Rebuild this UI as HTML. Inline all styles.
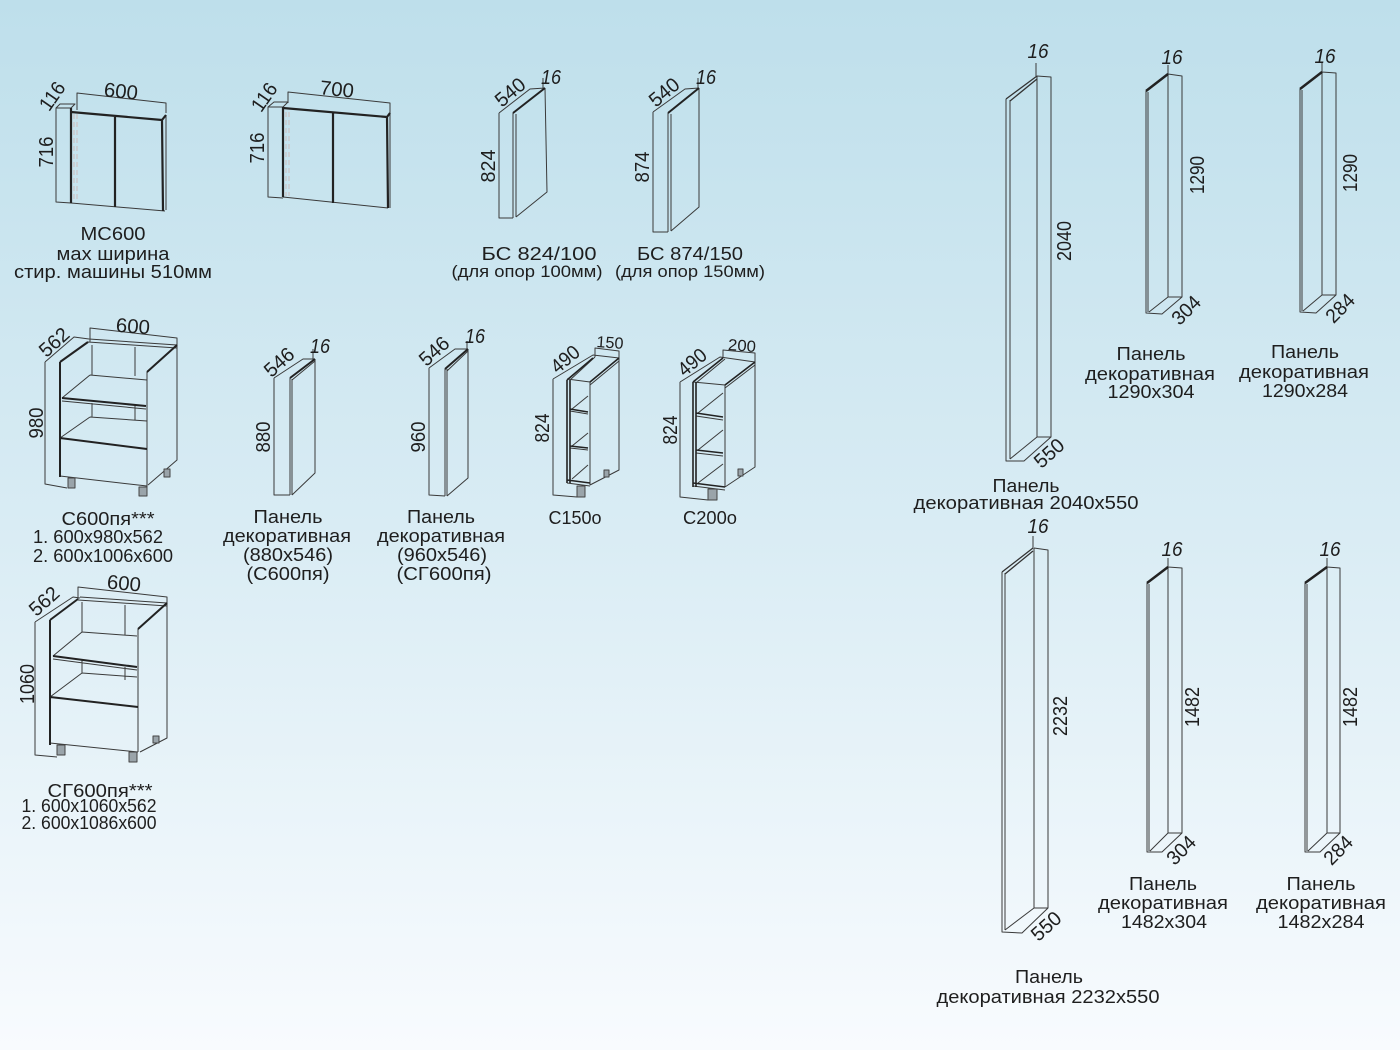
<!DOCTYPE html>
<html><head><meta charset="utf-8"><style>
html,body{margin:0;padding:0;width:1400px;height:1050px;overflow:hidden;}
svg{display:block;}
text{font-family:"Liberation Sans",Arial,sans-serif;fill:#1e1e1e;}
</style></head><body>
<svg width="1400" height="1050" viewBox="0 0 1400 1050" xmlns="http://www.w3.org/2000/svg">
<defs><linearGradient id="bg" x1="0" y1="0" x2="0" y2="1">
<stop offset="0" stop-color="#bedfeb"/><stop offset="0.5" stop-color="#d9ecf4"/><stop offset="1" stop-color="#f8fbfe"/></linearGradient></defs>
<rect width="1400" height="1050" fill="url(#bg)"/>

<g fill="none" stroke="#3a3a3a" stroke-width="1" stroke-linejoin="round">
<!-- MC600 -->
<path d="M56,108 L56,202 L71,203 M56,108 L60,104 L75,104 L71,108 Z M71,203 L165,211 M166,115 L166,210 M77,110 L77,93 L166,103 L166,113"/>
<path d="M71,108 L71,203 M71,112 L162,120 M115,116 L115,207 M162,120 L163,211 M162,120 L166,115" stroke="#222" stroke-width="2.2"/>
<path d="M74,114 L74,200 M77,114 L77,200" stroke="#cdbcbc" stroke-dasharray="5 3"/>
<!-- MC700 -->
<path d="M268,107 L268,197 L283,198 M268,107 L274,102 L288,102 L283,107 Z M283,197 L388,208 M390,113 L390,208 M288,103 L288,92 L390,103 L390,113"/>
<path d="M283,107 L283,197 M283,108 L387,117 M333,112 L333,203 M387,117 L388,208 M387,117 L390,113" stroke="#222" stroke-width="2.2"/>
<path d="M286,112 L286,196 M289,112 L289,196" stroke="#cdbcbc" stroke-dasharray="5 3"/>
<!-- БС 824 -->
<path d="M499,113 L499,218 L513,218 M513,113 L513,218 M516,114 L516,217 M499,113 L530,89 L545,88 M545,88 L547,192 L516,217 M543,89 L543,78"/>
<path d="M513,113 L545,88" stroke="#222" stroke-width="2"/>
<!-- БС 874 -->
<path d="M653,112 L653,232 L668,232 M668,113 L668,232 M671,114 L671,231 M653,112 L685,89 L699,88 M699,88 L699,207 L671,231 M698,89 L698,78"/>
<path d="M668,113 L699,88" stroke="#222" stroke-width="2"/>

<!-- C600пя -->
<path d="M45,362 L45,484 L67,488 M45,362 L74,337 L89,339 M88,342 L177,348 M89,339 L177,345 M147,372 L147,487 M177,345 L177,460 L148,485
M92,345 L92,375 M135,347 L135,376 M90,375 L147,380 M90,375 L62,398 M62,401 L146,409
M92,403 L92,417 M135,405 L135,420 M90,417 L147,421 M90,417 L60,438 M60,476 L147,486 M90,342 L90,328 L177,338 L177,348"/>
<path d="M60,362 L60,477 M60,362 L88,342 M177,345 L147,372 M62,398 L146,406 M60,438 L147,449" stroke="#222" stroke-width="2"/>
<g fill="#9aa4aa" stroke="#444"><rect x="68" y="478" width="7" height="10"/><rect x="139" y="487" width="8" height="9"/><rect x="164" y="469" width="6" height="8"/></g>

<!-- Panel 880 -->
<path d="M274,378 L274,495 L290,495 M290,378 L290,495 M292,379 L292,495 M274,378 L303,359 L315,359 M292,380 L315,361 M315,359 L315,473 L292,495 M313,359 L313,349"/>
<path d="M290,378 L315,359" stroke="#222" stroke-width="2"/>
<!-- Panel 960 -->
<path d="M429,368 L429,495 L445,496 M445,369 L445,496 M447,369 L447,496 M429,368 L455,349 L468,349 M447,371 L468,351 M468,349 L468,478 L447,496 M467,349 L467,341"/>
<path d="M445,369 L468,349" stroke="#222" stroke-width="2"/>

<!-- С150о -->
<path d="M553,379 L553,495 L577,497 M553,379 L593,355 L619,358 M570,380 L595,357 M567,379 L590,382 M590,385 L619,361 M590,382 L590,485 M619,358 L619,470 L590,485
M570,411 L588,414 M572,409 L588,396 M570,448 L588,450 M572,446 L588,433 M567,483 L590,486 M572,479 L588,465 M595,357 L595,348 L619,351 L619,358"/>
<path d="M567,380 L593,358 M567,380 L567,483 M570,380 L570,483 M590,382 L619,358 M570,409 L588,412 M570,446 L588,448 M567,480 L590,483" stroke="#222" stroke-width="1.6"/>
<g fill="#9aa4aa" stroke="#444"><rect x="577" y="486" width="8" height="11"/><rect x="604" y="470" width="5" height="7"/></g>

<!-- С200о -->
<path d="M680,382 L680,497 L708,500 M680,382 L720,357 L755,362 M696,383 L725,359 M693,382 L725,385 M725,388 L755,365 M725,385 L725,487 M755,362 L755,467 L725,487
M696,416 L723,420 M698,413 L723,393 M696,453 L723,456 M698,450 L723,430 M693,486 L725,490 M698,483 L723,464 M723,358 L723,350 L755,353 L755,362"/>
<path d="M693,382 L723,358 M693,382 L693,487 M696,382 L696,487 M725,385 L755,362 M696,413 L723,417 M696,450 L723,453 M693,483 L725,487" stroke="#222" stroke-width="1.6"/>
<g fill="#9aa4aa" stroke="#444"><rect x="708" y="489" width="9" height="11"/><rect x="738" y="469" width="5" height="7"/></g>

<!-- СГ600пя -->
<path d="M35,622 L35,755 L57,757 M35,622 L73,597 L80,598 M78,600 L167,606 M80,597 L167,603 M138,629 L138,752 M167,603 L167,738 L140,752
M82,602 L82,632 M125,605 L125,635 M82,632 L137,636 M82,632 L53,656 M53,659 L137,670
M82,660 L82,673 M125,667 L125,680 M82,673 L137,677 M82,673 L50,697 M50,743 L138,752 M78,600 L78,587 L167,597 L167,606"/>
<path d="M50,620 L50,745 M50,620 L78,599 M167,603 L138,629 M53,656 L137,667 M50,697 L138,707" stroke="#222" stroke-width="2"/>
<g fill="#9aa4aa" stroke="#444"><rect x="57" y="745" width="8" height="10"/><rect x="129" y="752" width="8" height="10"/><rect x="153" y="736" width="6" height="7"/></g>

<!-- Panel 2040x550 -->
<path d="M1006,99 L1006,461 L1024,461 L1051,437 L1051,77 L1037,76 M1010,100 L1010,459 M1037,76 L1037,437 L1051,437 M1010,459 L1037,437 M1036,76 L1036,63"/>
<path d="M1006,99 L1037,76 M1010,101 L1037,79" stroke="#333" stroke-width="1.3"/>
<!-- Panel 1290x304 -->
<path d="M1146,91 L1146,313 L1162,314 L1182,297 L1182,76 L1168,74 M1148,92 L1148,312 M1168,74 L1168,297 L1182,297 M1149,312 L1168,297 M1168,74 L1168,65"/>
<path d="M1146,91 L1168,74" stroke="#222" stroke-width="2.5"/>
<!-- Panel 1290x284 -->
<path d="M1300,89 L1300,312 L1316,313 L1336,295 L1336,73 L1322,72 M1302,90 L1302,311 M1322,72 L1322,295 L1336,295 M1303,311 L1322,295 M1322,72 L1322,63"/>
<path d="M1300,89 L1322,72" stroke="#222" stroke-width="2.5"/>
<!-- Panel 2232x550 -->
<path d="M1002,572 L1002,932 L1022,933 L1048,908 L1048,550 L1034,548 M1005,573 L1005,930 M1034,548 L1034,908 L1048,908 M1005,930 L1034,908 M1033,548 L1033,536"/>
<path d="M1002,572 L1033,548 M1005,574 L1033,551" stroke="#333" stroke-width="1.3"/>
<!-- Panel 1482x304 -->
<path d="M1147,583 L1147,852 L1162,852 L1182,833 L1182,568 L1168,567 M1149,584 L1149,851 M1168,567 L1168,833 L1182,833 M1150,851 L1168,833 M1168,567 L1168,558"/>
<path d="M1147,583 L1168,567" stroke="#222" stroke-width="2.5"/>
<!-- Panel 1482x284 -->
<path d="M1305,583 L1305,852 L1320,852 L1340,833 L1340,568 L1327,567 M1307,584 L1307,851 M1327,567 L1327,833 L1340,833 M1308,851 L1327,833 M1327,567 L1327,558"/>
<path d="M1305,583 L1327,567" stroke="#222" stroke-width="2.5"/>
</g>

<!-- Labels -->
<g font-size="18" text-anchor="middle">
<text x="113" y="240" textLength="65" lengthAdjust="spacingAndGlyphs">МС600</text>
<text x="113" y="260" textLength="113" lengthAdjust="spacingAndGlyphs">мах ширина</text>
<text x="113" y="278" textLength="198" lengthAdjust="spacingAndGlyphs">стир. машины 510мм</text>
<text x="539" y="260" textLength="115" lengthAdjust="spacingAndGlyphs">БС 824/100</text>
<text x="527" y="277" font-size="17" textLength="151" lengthAdjust="spacingAndGlyphs">(для опор 100мм)</text>
<text x="690" y="260" textLength="106" lengthAdjust="spacingAndGlyphs">БС 874/150</text>
<text x="690" y="277" font-size="17" textLength="150" lengthAdjust="spacingAndGlyphs">(для опор 150мм)</text>
<text x="108" y="525" textLength="93" lengthAdjust="spacingAndGlyphs">С600пя***</text>
<text x="98" y="543" textLength="130" lengthAdjust="spacingAndGlyphs">1. 600x980x562</text>
<text x="103" y="562" textLength="140" lengthAdjust="spacingAndGlyphs">2. 600x1006x600</text>
<text x="288" y="523" textLength="69" lengthAdjust="spacingAndGlyphs">Панель</text>
<text x="287" y="542" textLength="128" lengthAdjust="spacingAndGlyphs">декоративная</text>
<text x="288" y="561" textLength="90" lengthAdjust="spacingAndGlyphs">(880x546)</text>
<text x="288" y="580" textLength="83" lengthAdjust="spacingAndGlyphs">(С600пя)</text>
<text x="441" y="523" textLength="68" lengthAdjust="spacingAndGlyphs">Панель</text>
<text x="441" y="542" textLength="128" lengthAdjust="spacingAndGlyphs">декоративная</text>
<text x="442" y="561" textLength="90" lengthAdjust="spacingAndGlyphs">(960x546)</text>
<text x="444" y="580" textLength="95" lengthAdjust="spacingAndGlyphs">(СГ600пя)</text>
<text x="575" y="524" textLength="53" lengthAdjust="spacingAndGlyphs">С150о</text>
<text x="710" y="524" textLength="54" lengthAdjust="spacingAndGlyphs">С200о</text>
<text x="100" y="797" textLength="105" lengthAdjust="spacingAndGlyphs">СГ600пя***</text>
<text x="89" y="812" textLength="135" lengthAdjust="spacingAndGlyphs">1. 600x1060x562</text>
<text x="89" y="829" textLength="135" lengthAdjust="spacingAndGlyphs">2. 600x1086x600</text>
<text x="1026" y="492" textLength="67" lengthAdjust="spacingAndGlyphs">Панель</text>
<text x="1026" y="509" textLength="225" lengthAdjust="spacingAndGlyphs">декоративная 2040x550</text>
<text x="1151" y="360" textLength="69" lengthAdjust="spacingAndGlyphs">Панель</text>
<text x="1150" y="380" textLength="130" lengthAdjust="spacingAndGlyphs">декоративная</text>
<text x="1151" y="398" textLength="87" lengthAdjust="spacingAndGlyphs">1290x304</text>
<text x="1305" y="358" textLength="68" lengthAdjust="spacingAndGlyphs">Панель</text>
<text x="1304" y="378" textLength="130" lengthAdjust="spacingAndGlyphs">декоративная</text>
<text x="1305" y="397" textLength="86" lengthAdjust="spacingAndGlyphs">1290x284</text>
<text x="1049" y="983" textLength="68" lengthAdjust="spacingAndGlyphs">Панель</text>
<text x="1048" y="1003" textLength="223" lengthAdjust="spacingAndGlyphs">декоративная 2232x550</text>
<text x="1163" y="890" textLength="68" lengthAdjust="spacingAndGlyphs">Панель</text>
<text x="1163" y="909" textLength="130" lengthAdjust="spacingAndGlyphs">декоративная</text>
<text x="1164" y="928" textLength="86" lengthAdjust="spacingAndGlyphs">1482x304</text>
<text x="1321" y="890" textLength="69" lengthAdjust="spacingAndGlyphs">Панель</text>
<text x="1321" y="909" textLength="130" lengthAdjust="spacingAndGlyphs">декоративная</text>
<text x="1321" y="928" textLength="87" lengthAdjust="spacingAndGlyphs">1482x284</text>
</g>

<!-- Dimension numbers -->
<g font-size="20" text-anchor="middle">
<text transform="translate(121,91) rotate(6)" y="7" textLength="34" lengthAdjust="spacingAndGlyphs">600</text>
<text transform="translate(52,96) rotate(-55)" y="7" textLength="30" lengthAdjust="spacingAndGlyphs">116</text>
<text transform="translate(46,152) rotate(-90)" y="7" textLength="31" lengthAdjust="spacingAndGlyphs">716</text>
<text transform="translate(337,89) rotate(6)" y="7" textLength="34" lengthAdjust="spacingAndGlyphs">700</text>
<text transform="translate(264,97) rotate(-55)" y="7" textLength="30" lengthAdjust="spacingAndGlyphs">116</text>
<text transform="translate(257,148) rotate(-90)" y="7" textLength="31" lengthAdjust="spacingAndGlyphs">716</text>
<text transform="translate(510,92) rotate(-40)" y="7" textLength="33" lengthAdjust="spacingAndGlyphs">540</text>
<text transform="translate(551,77)" y="7" font-style="italic" textLength="20" lengthAdjust="spacingAndGlyphs">16</text>
<text transform="translate(488,166) rotate(-90)" y="7" textLength="33" lengthAdjust="spacingAndGlyphs">824</text>
<text transform="translate(664,92) rotate(-40)" y="7" textLength="33" lengthAdjust="spacingAndGlyphs">540</text>
<text transform="translate(706,77)" y="7" font-style="italic" textLength="20" lengthAdjust="spacingAndGlyphs">16</text>
<text transform="translate(642,167) rotate(-90)" y="7" textLength="31" lengthAdjust="spacingAndGlyphs">874</text>
<text transform="translate(133,326) rotate(4)" y="7" textLength="34" lengthAdjust="spacingAndGlyphs">600</text>
<text transform="translate(54,342) rotate(-42)" y="7" textLength="33" lengthAdjust="spacingAndGlyphs">562</text>
<text transform="translate(36,423) rotate(-90)" y="7" textLength="31" lengthAdjust="spacingAndGlyphs">980</text>
<text transform="translate(279,362) rotate(-42)" y="7" textLength="33" lengthAdjust="spacingAndGlyphs">546</text>
<text transform="translate(320,346)" y="7" font-style="italic" textLength="20" lengthAdjust="spacingAndGlyphs">16</text>
<text transform="translate(263,437) rotate(-90)" y="7" textLength="31" lengthAdjust="spacingAndGlyphs">880</text>
<text transform="translate(434,351) rotate(-42)" y="7" textLength="33" lengthAdjust="spacingAndGlyphs">546</text>
<text transform="translate(475,336)" y="7" font-style="italic" textLength="20" lengthAdjust="spacingAndGlyphs">16</text>
<text transform="translate(418,437) rotate(-90)" y="7" textLength="31" lengthAdjust="spacingAndGlyphs">960</text>
<text transform="translate(610,343) rotate(4)" y="5" font-size="16" textLength="27" lengthAdjust="spacingAndGlyphs">150</text>
<text transform="translate(565,359) rotate(-40)" y="7" textLength="31" lengthAdjust="spacingAndGlyphs">490</text>
<text transform="translate(542,428) rotate(-90)" y="7" textLength="29" lengthAdjust="spacingAndGlyphs">824</text>
<text transform="translate(742,346) rotate(4)" y="5" font-size="16" textLength="28" lengthAdjust="spacingAndGlyphs">200</text>
<text transform="translate(692,362) rotate(-40)" y="7" textLength="31" lengthAdjust="spacingAndGlyphs">490</text>
<text transform="translate(670,430) rotate(-90)" y="7" textLength="29" lengthAdjust="spacingAndGlyphs">824</text>
<text transform="translate(124,583) rotate(5)" y="7" textLength="34" lengthAdjust="spacingAndGlyphs">600</text>
<text transform="translate(44,601) rotate(-42)" y="7" textLength="33" lengthAdjust="spacingAndGlyphs">562</text>
<text transform="translate(27,684) rotate(-90)" y="7" textLength="40" lengthAdjust="spacingAndGlyphs">1060</text>
<text transform="translate(1038,51)" y="7" font-style="italic" textLength="21" lengthAdjust="spacingAndGlyphs">16</text>
<text transform="translate(1064,241) rotate(-90)" y="7" textLength="40" lengthAdjust="spacingAndGlyphs">2040</text>
<text transform="translate(1049,453) rotate(-42)" y="7" textLength="33" lengthAdjust="spacingAndGlyphs">550</text>
<text transform="translate(1172,57)" y="7" font-style="italic" textLength="21" lengthAdjust="spacingAndGlyphs">16</text>
<text transform="translate(1197,175) rotate(-90)" y="7" textLength="38" lengthAdjust="spacingAndGlyphs">1290</text>
<text transform="translate(1186,310) rotate(-45)" y="7" textLength="32" lengthAdjust="spacingAndGlyphs">304</text>
<text transform="translate(1325,56)" y="7" font-style="italic" textLength="21" lengthAdjust="spacingAndGlyphs">16</text>
<text transform="translate(1350,173) rotate(-90)" y="7" textLength="38" lengthAdjust="spacingAndGlyphs">1290</text>
<text transform="translate(1340,308) rotate(-45)" y="7" textLength="32" lengthAdjust="spacingAndGlyphs">284</text>
<text transform="translate(1038,526)" y="7" font-style="italic" textLength="21" lengthAdjust="spacingAndGlyphs">16</text>
<text transform="translate(1060,716) rotate(-90)" y="7" textLength="40" lengthAdjust="spacingAndGlyphs">2232</text>
<text transform="translate(1046,926) rotate(-42)" y="7" textLength="33" lengthAdjust="spacingAndGlyphs">550</text>
<text transform="translate(1172,549)" y="7" font-style="italic" textLength="21" lengthAdjust="spacingAndGlyphs">16</text>
<text transform="translate(1192,707) rotate(-90)" y="7" textLength="40" lengthAdjust="spacingAndGlyphs">1482</text>
<text transform="translate(1181,850) rotate(-45)" y="7" textLength="32" lengthAdjust="spacingAndGlyphs">304</text>
<text transform="translate(1330,549)" y="7" font-style="italic" textLength="21" lengthAdjust="spacingAndGlyphs">16</text>
<text transform="translate(1350,707) rotate(-90)" y="7" textLength="40" lengthAdjust="spacingAndGlyphs">1482</text>
<text transform="translate(1338,850) rotate(-45)" y="7" textLength="32" lengthAdjust="spacingAndGlyphs">284</text>
</g>
</svg>
</body></html>
